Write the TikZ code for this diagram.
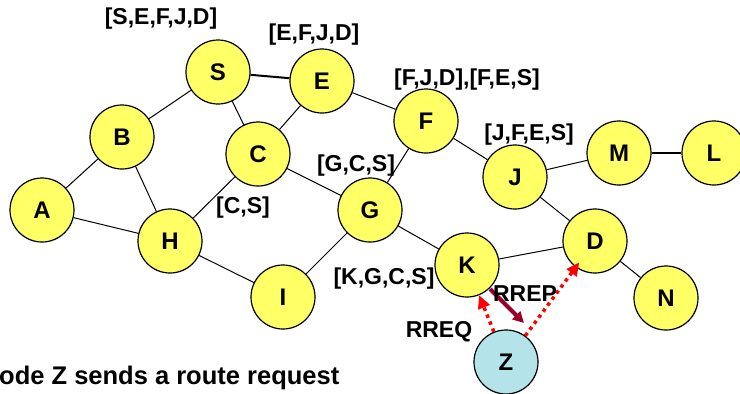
\documentclass[tikz,border=0pt]{standalone}
\usepackage{fontspec}
\setmainfont{Liberation Sans}
\usetikzlibrary{arrows.meta}
\definecolor{nodeyellow}{RGB}{255,255,102}
\definecolor{zblue}{RGB}{180,228,234}
\definecolor{rrepred}{RGB}{150,0,40}
\begin{document}
\begin{tikzpicture}[x=1pt,y=-1pt,
  host/.style={circle,draw=black,line width=1.2pt,fill=nodeyellow,minimum size=64pt,inner sep=0pt,
    font=\fontsize{24}{26}\selectfont\bfseries},
  link/.style={line width=1pt},
  boldlink/.style={line width=2pt},
  routelbl/.style={inner sep=0pt,font=\fontsize{23}{26}\selectfont\bfseries},
  rreq/.style={red,line width=3.5pt,dash pattern=on 3.5pt off 4pt,
    -{Triangle[length=13pt,width=12pt]}},
  rrep/.style={rrepred,line width=4pt,-{Triangle[length=11pt,width=11pt]}}]
\useasboundingbox (0,0) rectangle (740,394);

% hosts
\node[host] (S) at (218,72) {S};
\node[host] (E) at (322,81) {E};
\node[host] (B) at (122,137) {B};
\node[host] (A) at (42,210) {A};
\node[host] (H) at (170,241) {H};
\node[host] (C) at (258,154) {C};
\node[host] (F) at (426,121) {F};
\node[host] (G) at (370,210) {G};
\node[host] (I) at (283,297) {I};
\node[host] (J) at (515,177) {J};
\node[host] (M) at (619,153) {M};
\node[host] (L) at (714,153) {L};
\node[host] (D) at (595,241) {D};
\node[host] (N) at (666,298) {N};
\node[host] (K) at (467,265) {K};
\node[host,fill=zblue] (Z) at (506,362) {Z};

% links
\draw[link] (A) -- (B);
\draw[link] (A) -- (H);
\draw[link] (B) -- (S);
\draw[link] (B) -- (H);
\draw[boldlink] (S) -- (E);
\draw[link] (S) -- (C);
\draw[link] (E) -- (C);
\draw[link] (E) -- (F);
\draw[link] (C) -- (H);
\draw[link] (C) -- (G);
\draw[link] (F) -- (G);
\draw[link] (F) -- (J);
\draw[link] (G) -- (I);
\draw[link] (G) -- (K);
\draw[link] (H) -- (I);
\draw[link] (K) -- (D);
\draw[link] (J) -- (M);
\draw[boldlink] (M) -- (L);
\draw[link] (J) -- (D);
\draw[link] (D) -- (N);

% route records
\node[routelbl] (lS) at (161,19) {[S,E,F,J,D]};
\node[routelbl] (lE) at (314,35) {[E,F,J,D]};
\node[routelbl] (lF) at (467,80) {[F,J,D],[F,E,S]};
\node[routelbl] (lJ) at (529,135) {[J,F,E,S]};
\node[routelbl] (lG) at (356,166) {[G,C,S]};
\node[routelbl] (lC) at (243,208) {[C,S]};
\node[routelbl] (lK) at (384,279) {[K,G,C,S]};

% route request / reply
\draw[rreq] (Z) -- (K);
\draw[rreq,shorten >=-6pt] (Z) -- (D);
\coordinate (rrepstart) at (490,289);
\coordinate (rrepend) at (524,323);
\draw[rrep] (rrepstart) -- (rrepend);
\node[routelbl] (lreq) at (439,332) {RREQ};
\node[routelbl] (lrep) at (525,294) {RREP};

% caption
\node[inner sep=0pt,anchor=base west,font=\fontsize{25.5}{28}\selectfont\bfseries] (cap) at (-1,384)
  {ode Z sends a route request};
\end{tikzpicture}
\end{document}
